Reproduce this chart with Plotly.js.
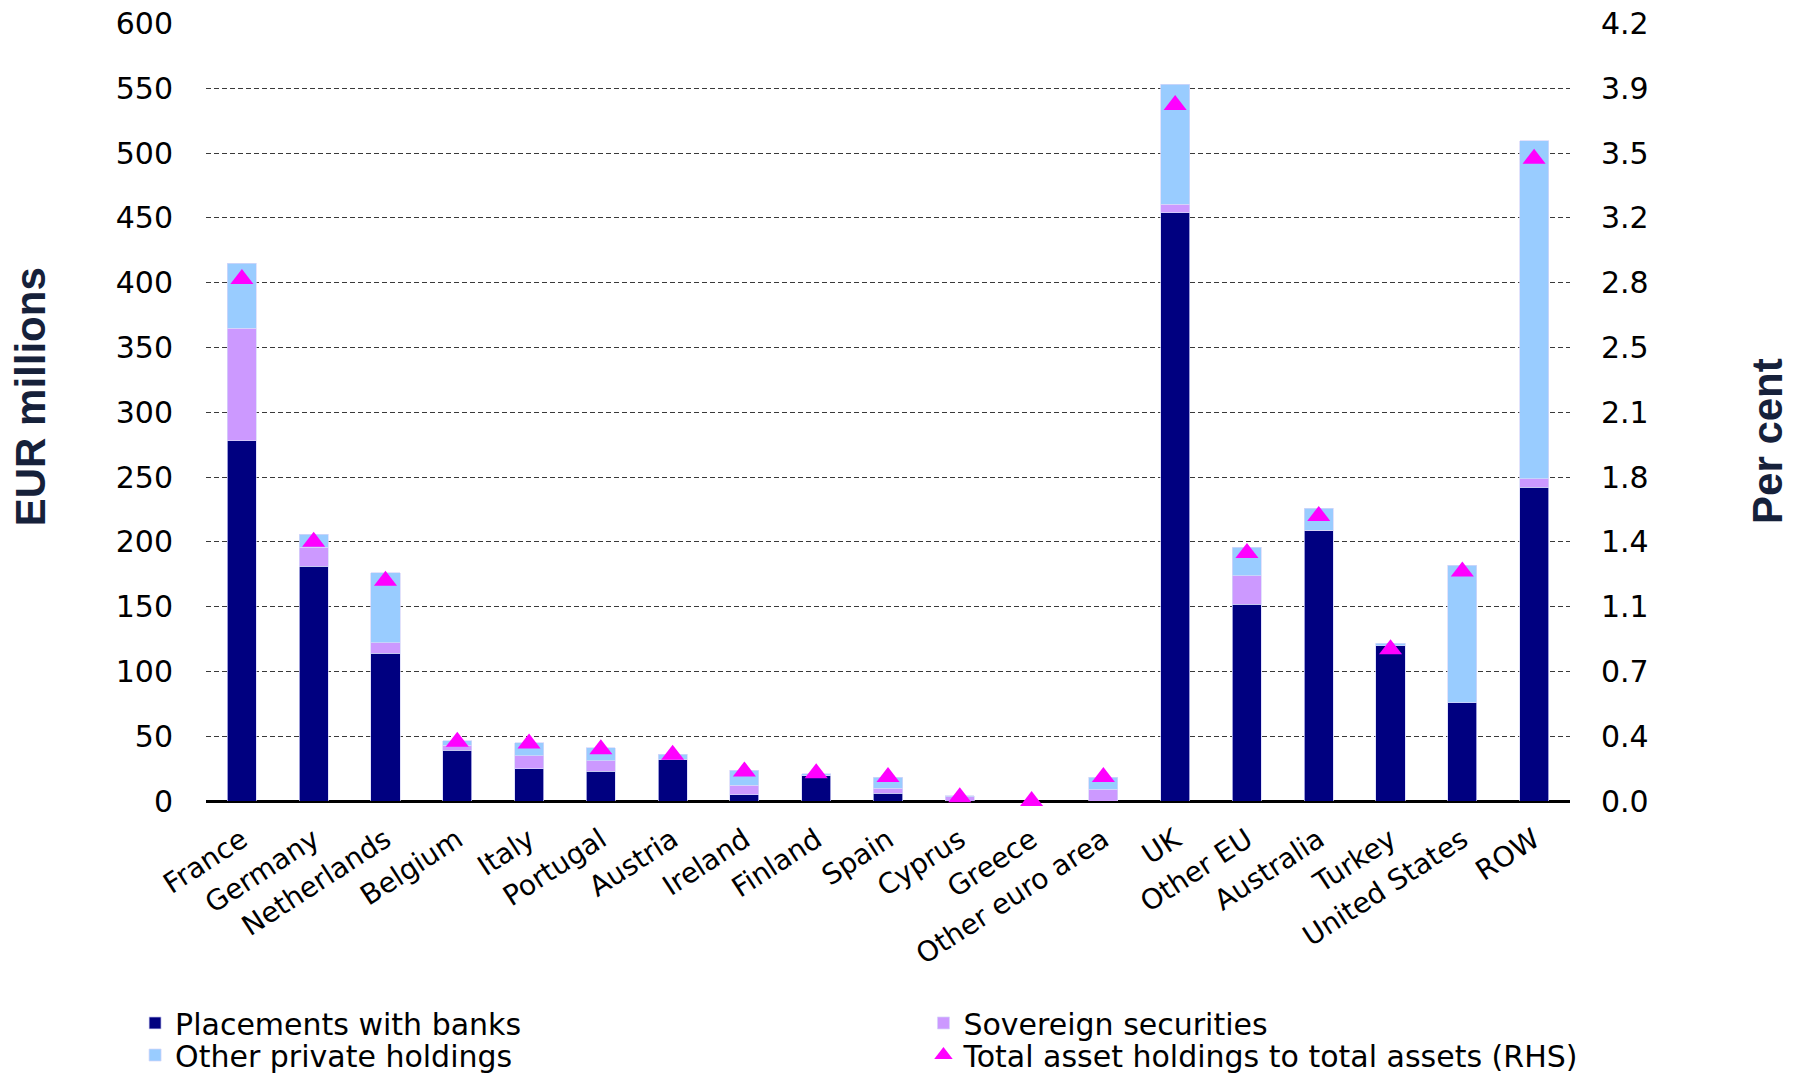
<!DOCTYPE html>
<html>
<head>
<meta charset="utf-8">
<script src="https://cdn.plot.ly/plotly-3.0.1.min.js"></script>
<style>
html,body{margin:0;padding:0;background:#fff;}
#chart{width:1798px;height:1073px;}
</style>
</head>
<body>
<div id="chart"></div>
<script>
// ---- Data ----
var categories = ['France','Germany','Netherlands','Belgium','Italy','Portugal','Austria','Ireland','Finland','Spain','Cyprus','Greece','Other euro area','UK','Other EU','Australia','Turkey','United States','ROW'];

// EUR millions (left axis)
var placementsWithBanks = [278, 181, 114, 39, 25, 23, 32, 5, 20, 6, 0, 0, 0, 454, 152, 209, 120, 76, 242];
var sovereignSecurities = [87, 15, 8, 4, 10, 8, 0, 7, 0, 4, 3.3, 0, 9, 6.5, 22, 0, 0, 0, 6.5];
var otherPrivateHoldings = [50, 10, 54, 3.6, 10, 10, 4, 11.6, 1, 8.5, 0.8, 0, 9.5, 92.5, 22, 17, 1.6, 106, 261];

// Per cent (right axis)
var totalToTotalAssets = [2.82, 1.40, 1.19, 0.32, 0.31, 0.28, 0.25, 0.16, 0.15, 0.13, 0.02, 0.0, 0.13, 3.76, 1.34, 1.54, 0.82, 1.24, 3.47];

// Axis ticks
var leftTicks = [0, 50, 100, 150, 200, 250, 300, 350, 400, 450, 500, 550, 600];
var rightTickVals = [0, 0.35, 0.7, 1.05, 1.4, 1.75, 2.1, 2.45, 2.8, 3.15, 3.5, 3.85, 4.2];
var rightTickText = ['0.0','0.4','0.7','1.1','1.4','1.8','2.1','2.5','2.8','3.2','3.5','3.9','4.2'];

// ---- Styles ----
var FONT = 'DejaVu Sans, Verdana, sans-serif';
var edge = {color: 'rgba(215,215,250,0.9)', width: 0.8};
var LEFT_MAX = 600.4;              // tiny headroom so the 600 gridline is drawn
var RIGHT_MAX = 4.2 * LEFT_MAX / 600;

var traces = [
  {
    type: 'bar', name: 'Placements with banks', x: categories, y: placementsWithBanks,
    marker: {color: '#000080', line: edge}, legend: 'legend'
  },
  {
    type: 'bar', name: 'Sovereign securities', x: categories, y: sovereignSecurities,
    marker: {color: '#CC99FF', line: edge}, legend: 'legend2'
  },
  {
    type: 'bar', name: 'Other private holdings', x: categories, y: otherPrivateHoldings,
    marker: {color: '#99CCFF', line: edge}, legend: 'legend3'
  },
  {
    type: 'scatter', mode: 'markers', name: 'Total asset holdings to total assets (RHS)',
    x: categories, y: totalToTotalAssets, yaxis: 'y2', cliponaxis: false,
    marker: {symbol: 'triangle-up', size: 20, color: '#FF00FF'},
    legend: 'legend4'
  }
];

function legendBox(x, y) {
  return {
    x: x, xanchor: 'left', y: y, yanchor: 'middle',
    orientation: 'v',
    font: {family: FONT, size: 30, color: '#000'},
    bgcolor: 'rgba(0,0,0,0)', borderwidth: 0
  };
}
var COL1 = -0.052, COL2 = 0.526, ROW1 = -0.2853, ROW2 = -0.3265;

var layout = {
  width: 1798, height: 1073,
  paper_bgcolor: '#ffffff', plot_bgcolor: '#ffffff',
  margin: {l: 206, r: 228, t: 23, b: 272, autoexpand: false},
  barmode: 'stack',
  bargap: 0.595,
  font: {family: FONT, color: '#000000', size: 30},
  xaxis: {
    type: 'category',
    range: [-0.5, categories.length - 0.5],
    tickangle: -33,
    tickfont: {family: FONT, size: 28, color: '#000'},
    ticks: '', ticklabelstandoff: 16,
    showgrid: false, showline: false, zeroline: false,
    automargin: false
  },
  yaxis: {
    range: [0, LEFT_MAX], tickvals: leftTicks,
    tickfont: {family: FONT, size: 30, color: '#000'},
    ticks: '', ticklabelstandoff: 32,
    showgrid: true, gridcolor: '#3a3a3a', gridwidth: 1, griddash: '5px,3px',
    zeroline: true, zerolinecolor: '#000000', zerolinewidth: 3,
    showline: false, automargin: false
  },
  yaxis2: {
    overlaying: 'y', side: 'right',
    range: [0, RIGHT_MAX], tickvals: rightTickVals, ticktext: rightTickText,
    tickfont: {family: FONT, size: 30, color: '#000'},
    ticks: '', ticklabelstandoff: 30,
    showgrid: false, zeroline: false, showline: false, automargin: false
  },
  showlegend: true,
  legend: legendBox(COL1, ROW1),
  legend2: legendBox(COL2, ROW1),
  legend3: legendBox(COL1, ROW2),
  legend4: legendBox(COL2, ROW2),
  annotations: [
    {
      text: '<b>EUR millions</b>', xref: 'paper', yref: 'paper',
      x: -0.129, y: 0.519, xanchor: 'center', yanchor: 'middle',
      textangle: -90, showarrow: false,
      font: {family: 'Liberation Sans, Arial, sans-serif', size: 42, color: '#16213a'}
    },
    {
      text: '<b>Per cent</b>', xref: 'paper', yref: 'paper',
      x: 1.1444, y: 0.4627, xanchor: 'center', yanchor: 'middle',
      textangle: -90, showarrow: false,
      font: {family: 'Liberation Sans, Arial, sans-serif', size: 42, color: '#16213a'}
    }
  ]
};

Plotly.newPlot('chart', traces, layout, {displayModeBar: false, staticPlot: true});
</script>
</body>
</html>
